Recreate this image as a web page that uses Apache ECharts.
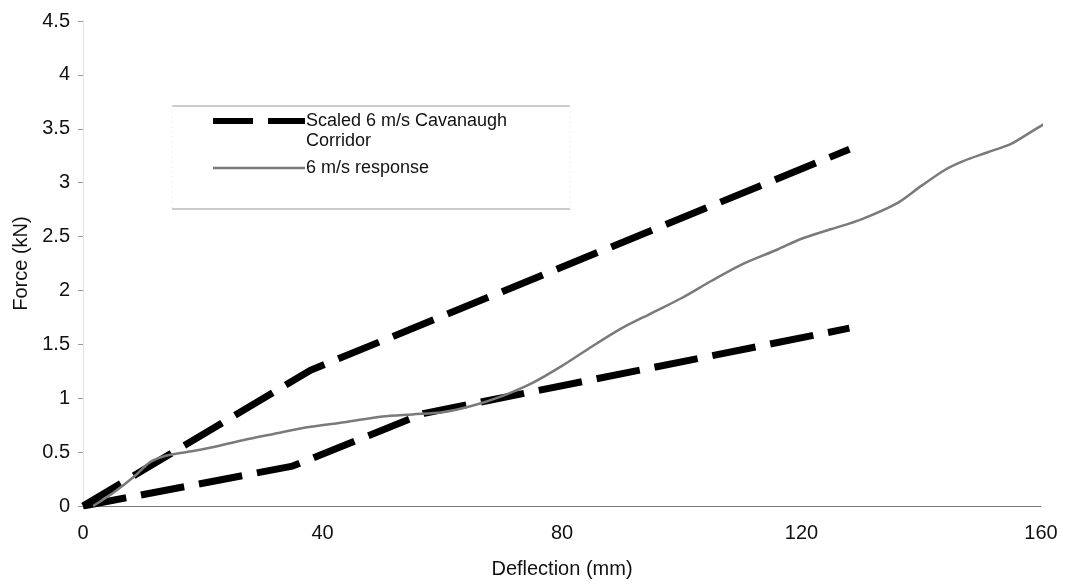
<!DOCTYPE html>
<html>
<head>
<meta charset="utf-8">
<script src="https://cdn.jsdelivr.net/npm/echarts@6/dist/echarts.min.js"></script>
<style>
  html, body { margin: 0; padding: 0; background: #fff; }
  #chart { width: 1066px; height: 584px; }
</style>
</head>
<body>
<div id="chart"></div>
<script>
// Corridor bounds (deflection mm, force kN)
const corridorUpper = [[0, 0], [38, 1.26], [128, 3.31]];
const corridorLower = [[0, 0], [35, 0.37], [57, 0.86], [128, 1.65]];

// Measured response
const response = [
  [1.7, 0], [5, 0.12], [8.7, 0.28], [11, 0.4], [12.9, 0.45], [15, 0.48], [18.4, 0.51],
  [22, 0.55], [26.7, 0.61], [32, 0.67], [37.4, 0.73], [44, 0.78], [50, 0.83],
  [55, 0.85], [60, 0.87], [65, 0.93], [70, 1.02], [75, 1.14], [80, 1.3],
  [85, 1.48], [90, 1.65], [95, 1.79], [100, 1.93], [105, 2.09], [110, 2.24],
  [116, 2.38], [120, 2.48], [125, 2.57], [130, 2.66], [136, 2.81], [140, 2.97],
  [144, 3.12], [147, 3.2], [151, 3.28], [155, 3.36], [158, 3.46], [161, 3.56]
];

const xTicks = [0, 40, 80, 120, 160];
const yTicks = [0, 0.5, 1, 1.5, 2, 2.5, 3, 3.5, 4, 4.5];

const corridorName = 'Scaled 6 m/s Cavanaugh\nCorridor';
const responseName = '6 m/s response';

const font = 'Liberation Sans, Arial, sans-serif';
const chart = echarts.init(document.getElementById('chart'), null, { renderer: 'canvas' });

const dashed = {
  color: '#000',
  width: 7,
  type: [44, 15],
  cap: 'butt'
};
const grayLine = { color: '#7a7a7a', width: 2.5 };
const hiddenSymbol = { color: 'rgba(0,0,0,0)', borderColor: 'rgba(0,0,0,0)', borderWidth: 0 };

const option = {
  animation: false,
  backgroundColor: '#fff',
  textStyle: { fontFamily: font },
  grid: { left: 83, right: 25, top: 21, bottom: 77, containLabel: false },
  xAxis: {
    type: 'value',
    min: xTicks[0],
    max: xTicks[xTicks.length - 1],
    interval: 40,
    name: 'Deflection (mm)',
    nameLocation: 'middle',
    nameGap: 53,
    nameTextStyle: { fontSize: 20, color: '#111', fontFamily: font },
    axisLine: { show: true, lineStyle: { color: '#777', width: 1 } },
    axisTick: { show: false },
    axisLabel: { fontSize: 20, color: '#111', margin: 17, fontFamily: font },
    splitLine: { show: false }
  },
  yAxis: {
    type: 'value',
    min: yTicks[0],
    max: yTicks[yTicks.length - 1],
    interval: 0.5,
    name: 'Force (kN)',
    nameLocation: 'middle',
    nameGap: 51,
    nameRotate: 90,
    nameTextStyle: { fontSize: 20, color: '#111', fontFamily: font },
    axisLine: { show: true, lineStyle: { color: '#ddd', width: 1, type: 'dotted' } },
    axisTick: { show: true, length: 5, lineStyle: { color: '#999' } },
    axisLabel: { fontSize: 20, color: '#111', margin: 13, fontFamily: font },
    splitLine: { show: false }
  },
  legend: {
    orient: 'vertical',
    left: 210,
    top: 91,
    padding: 0,
    itemWidth: 92,
    itemHeight: 14,
    itemGap: 7,
    // leading blank line keeps the first text line level with the icon
    formatter: name => (name === corridorName ? ' \n' + name : name),
    textStyle: { fontSize: 18, color: '#111', lineHeight: 20, padding: [0, 0, 0, -4], fontFamily: font },
    data: [
      {
        name: corridorName,
        itemStyle: hiddenSymbol,
        lineStyle: { color: '#000', width: 6, type: [40, 15], cap: 'butt' }
      },
      {
        name: responseName,
        itemStyle: hiddenSymbol,
        lineStyle: { color: '#7a7a7a', width: 2.5, type: 'solid' }
      }
    ]
  },
  graphic: [
    { type: 'line', shape: { x1: 172, y1: 106, x2: 570, y2: 106 }, style: { stroke: '#999', lineWidth: 1 } },
    { type: 'line', shape: { x1: 172, y1: 209, x2: 570, y2: 209 }, style: { stroke: '#999', lineWidth: 1 } },
    { type: 'line', shape: { x1: 172, y1: 106, x2: 172, y2: 209 }, style: { stroke: '#eee', lineWidth: 1, lineDash: [2, 3] } },
    { type: 'line', shape: { x1: 570, y1: 106, x2: 570, y2: 209 }, style: { stroke: '#eee', lineWidth: 1, lineDash: [2, 3] } }
  ],
  series: [
    {
      name: corridorName,
      type: 'line',
      data: corridorUpper,
      symbol: 'none',
      lineStyle: dashed,
      itemStyle: { color: '#000' },
      z: 3
    },
    {
      name: corridorName,
      type: 'line',
      data: corridorLower,
      symbol: 'none',
      lineStyle: dashed,
      itemStyle: { color: '#000' },
      z: 3
    },
    {
      name: responseName,
      type: 'line',
      data: response,
      symbol: 'none',
      smooth: 0.3,
      lineStyle: grayLine,
      itemStyle: { color: '#7a7a7a' },
      z: 4
    }
  ]
};

chart.setOption(option);
</script>
</body>
</html>
